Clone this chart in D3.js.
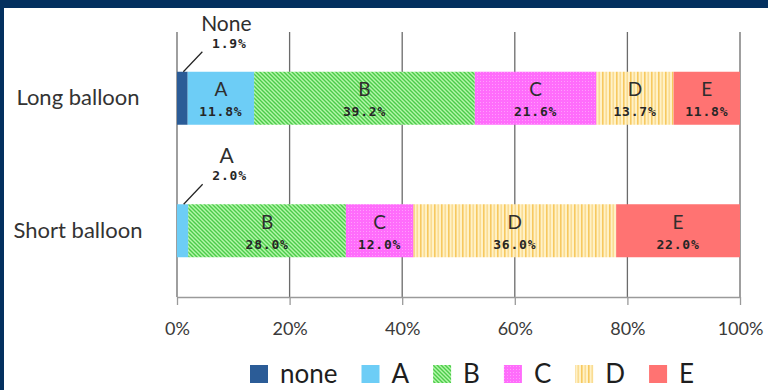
<!DOCTYPE html>
<html>
<head>
<meta charset="utf-8">
<script src="https://cdn.jsdelivr.net/npm/d3@7"></script>
<style>
  html, body { margin: 0; padding: 0; background: #fff; }
  svg { display: block; }
</style>
</head>
<body>
<svg id="chart" width="768" height="390"></svg>
<script>
// Share of responses per balloon type (percent of each row)
const categories = ["Long balloon", "Short balloon"];
const seriesKeys = ["none", "A", "B", "C", "D", "E"];
const segmentNames = ["None", "A", "B", "C", "D", "E"];
const longValues  = [1.9, 11.8, 39.2, 21.6, 13.7, 11.8];
const shortValues = [0.0, 2.0, 28.0, 12.0, 36.0, 22.0];
const tickValues = [0, 20, 40, 60, 80, 100];

const rows = [longValues, shortValues].map((vals, i) => {
  const row = { category: categories[i] };
  seriesKeys.forEach((k, j) => row[k] = vals[j]);
  return row;
});

const svg = d3.select("#chart");
const W = 768, H = 390;

// frame
svg.append("rect").attr("width", W).attr("height", H).attr("fill", "#fff");
svg.append("rect").attr("x", 0).attr("y", 0).attr("width", W).attr("height", 8).attr("fill", "#03305f");
svg.append("rect").attr("x", 0).attr("y", 0).attr("width", 4).attr("height", H).attr("fill", "#03305f");

// fill patterns
const defs = svg.append("defs");
const pB = defs.append("pattern").attr("id", "patB").attr("patternUnits", "userSpaceOnUse")
  .attr("width", 4).attr("height", 4);
pB.append("rect").attr("width", 4).attr("height", 4).attr("fill", "#b4f7aa");
pB.append("path").attr("d", "M-1,-1L5,5M3,-1L5,1M-1,3L1,5")
  .attr("stroke", "#4ccb4a").attr("stroke-width", 1.4);

const pC = defs.append("pattern").attr("id", "patC").attr("patternUnits", "userSpaceOnUse")
  .attr("width", 3).attr("height", 3);
pC.append("rect").attr("width", 3).attr("height", 3).attr("fill", "#ff6cfb");
pC.append("rect").attr("width", 1).attr("height", 1).attr("fill", "#ff9dfb");

const pD = defs.append("pattern").attr("id", "patD").attr("patternUnits", "userSpaceOnUse")
  .attr("width", 7).attr("height", 7);
pD.append("rect").attr("width", 7).attr("height", 7).attr("fill", "#fff1c6");
pD.append("rect").attr("x", 0).attr("width", 1.6).attr("height", 7).attr("fill", "#f7c95f");
pD.append("rect").attr("x", 3.6).attr("width", 1.1).attr("height", 7).attr("fill", "#f9d47c");

const fills = {
  none: "#2b5c97",
  A: "#6dcdf6",
  B: "url(#patB)",
  C: "url(#patC)",
  D: "url(#patD)",
  E: "#ff7372"
};

// scales
const x = d3.scaleLinear().domain([0, 100]).range([177, 740]);
const y = d3.scaleBand().domain(categories).range([32, 297])
  .paddingInner(0.6).paddingOuter(0.3);

// vertical gridlines
svg.append("g").selectAll("line").data(tickValues).join("line")
  .attr("x1", d => x(d)).attr("x2", d => x(d))
  .attr("y1", 32).attr("y2", 297)
  .attr("stroke", "#6b6b6b").attr("stroke-width", 1.3);

// x axis
const axis = svg.append("g").attr("transform", "translate(0,297)")
  .call(d3.axisBottom(x).tickValues(tickValues).tickFormat(d => d + "%")
    .tickSize(8).tickSizeOuter(0).tickPadding(17));
axis.select(".domain").attr("stroke", "#9a9a9a").attr("stroke-width", 1.3);
axis.selectAll(".tick line").attr("stroke", "#9a9a9a").attr("stroke-width", 1.3);
axis.selectAll(".tick text").attr("font-family", "Lato, sans-serif")
  .attr("font-size", 18).attr("fill", "#3a3a3a");

// stacked bars
const stacked = d3.stack().keys(seriesKeys)(rows);
const layers = svg.append("g").selectAll("g").data(stacked).join("g")
  .attr("fill", d => fills[d.key]);
layers.selectAll("rect").data(d => d).join("rect")
  .attr("x", d => x(d[0]))
  .attr("width", d => x(d[1]) - x(d[0]))
  .attr("y", d => y(d.data.category))
  .attr("height", y.bandwidth());

// category labels
svg.append("g").selectAll("text").data(categories).join("text")
  .attr("x", 78).attr("y", d => y(d) + y.bandwidth() / 2 + 7)
  .attr("text-anchor", "middle")
  .attr("font-family", "Lato, sans-serif").attr("font-size", 22)
  .attr("fill", "#333").text(d => d);

// segment labels
const labelData = [];
stacked.forEach((layer, j) => {
  layer.forEach(d => {
    const v = d[1] - d[0];
    if (v <= 0) return;
    labelData.push({
      name: segmentNames[j], value: v,
      cx: x((d[0] + d[1]) / 2),
      top: y(d.data.category),
      mid: y(d.data.category) + y.bandwidth() / 2,
      outside: v < 3
    });
  });
});

const inside = labelData.filter(d => !d.outside);
const lab = svg.append("g");
lab.selectAll("text.name").data(inside).join("text")
  .attr("class", "name")
  .attr("x", d => d.cx).attr("y", d => d.mid - 2)
  .attr("text-anchor", "middle")
  .attr("font-family", "Lato, sans-serif").attr("font-size", 19)
  .attr("fill", "#2e2e2e").text(d => d.name);
lab.selectAll("text.pct").data(inside).join("text")
  .attr("class", "pct")
  .attr("x", d => d.cx).attr("y", d => d.mid + 18)
  .attr("text-anchor", "middle")
  .attr("font-family", "'DejaVu Sans Mono', monospace").attr("font-weight", "bold")
  .attr("font-size", 13).attr("letter-spacing", 0.8)
  .attr("fill", "#262626").text(d => d.value.toFixed(1) + "%");

// small segments labelled above the bar with a leader line
const outside = labelData.filter(d => d.outside);
lab.selectAll("line.leader").data(outside).join("line")
  .attr("class", "leader")
  .attr("x1", d => d.cx + 20).attr("y1", d => d.top - 20)
  .attr("x2", d => d.cx + 1).attr("y2", d => d.top)
  .attr("stroke", "#222").attr("stroke-width", 1.2);
lab.selectAll("text.oname").data(outside).join("text")
  .attr("class", "oname")
  .attr("x", d => d.cx + 44).attr("y", d => d.top - 41)
  .attr("text-anchor", "middle")
  .attr("font-family", "Lato, sans-serif").attr("font-size", 21)
  .attr("fill", "#2e2e2e").text(d => d.name);
lab.selectAll("text.opct").data(outside).join("text")
  .attr("class", "opct")
  .attr("x", d => d.cx + 47).attr("y", d => d.top - 24)
  .attr("text-anchor", "middle")
  .attr("font-family", "'DejaVu Sans Mono', monospace").attr("font-weight", "bold")
  .attr("font-size", 13).attr("letter-spacing", 0.8)
  .attr("fill", "#262626").text(d => d.value.toFixed(1) + "%");

// legend
const legendLabels = ["none", "A", "B", "C", "D", "E"];
const legend = svg.append("g");
let lx = 250;
legendLabels.forEach((name, i) => {
  legend.append("rect").attr("x", lx).attr("y", 365).attr("width", 18).attr("height", 18)
    .attr("fill", fills[seriesKeys[i]]);
  const t = legend.append("text").attr("x", lx + 30).attr("y", 383)
    .attr("font-family", "Lato, sans-serif").attr("font-size", 26)
    .attr("fill", "#1e1e1e").text(name);
  lx += 30 + t.node().getComputedTextLength() + 24;
});
</script>
</body>
</html>
